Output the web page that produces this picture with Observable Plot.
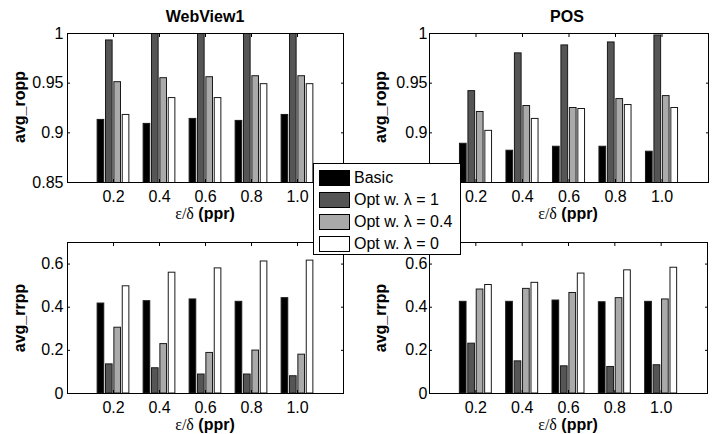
<!DOCTYPE html>
<html><head><meta charset="utf-8">
<script src="https://cdn.jsdelivr.net/npm/d3@7"></script>
<script src="https://cdn.jsdelivr.net/npm/@observablehq/plot@0.6"></script>
<style>
body{margin:0;background:#fff;font-family:"Liberation Sans",Arial,sans-serif;color:#000;}
#chart{position:relative;width:722px;height:434px;overflow:hidden;background:#fff;}
.panel{position:absolute;width:361px;height:217px;}
.panel svg{display:block;}
.txt{position:absolute;white-space:nowrap;font-size:16px;line-height:1;transform:translate(-50%,-50%);}
.bold{font-weight:bold;}
.ylab{transform:translate(-50%,-50%) rotate(-90deg);font-weight:bold;}
.sym{font-family:"Liberation Serif","DejaVu Serif",serif;font-weight:normal;}
#legend{position:absolute;left:313px;top:163px;width:146px;height:90px;border:1px solid #000;background:#fff;z-index:5;}
.lrow{position:absolute;left:5px;height:16px;display:flex;align-items:center;font-size:16px;white-space:nowrap;}
.sw{width:29px;height:14px;border:1px solid #000;margin-right:4px;box-sizing:content-box;}
</style></head><body><div id="chart"></div>
<script>
// ---- data ----
const categories = ["0.2", "0.4", "0.6", "0.8", "1.0"];
const seriesNames = ["Basic", "Opt w. λ = 1", "Opt w. λ = 0.4", "Opt w. λ = 0"];
const seriesFills = ["#000000", "#555555", "#aaaaaa", "#ffffff"];

const roppTicks = [0.85, 0.9, 0.95, 1];
const roppTickLabels = ["0.85", "0.9", "0.95", "1"];
const rrppTicks = [0, 0.2, 0.4, 0.6];
const rrppTickLabels = ["0", "0.2", "0.4", "0.6"];

// WebView1 avg_ropp
const webRoppBasic = [0.913, 0.909, 0.914, 0.912, 0.918];
const webRoppL1    = [0.993, 1.0, 1.0, 1.0, 1.0];
const webRoppL04   = [0.951, 0.955, 0.956, 0.957, 0.957];
const webRoppL0    = [0.918, 0.935, 0.935, 0.949, 0.949];
// POS avg_ropp
const posRoppBasic = [0.889, 0.882, 0.886, 0.886, 0.881];
const posRoppL1    = [0.942, 0.980, 0.988, 0.991, 0.998];
const posRoppL04   = [0.921, 0.927, 0.925, 0.934, 0.937];
const posRoppL0    = [0.902, 0.914, 0.924, 0.928, 0.925];
// WebView1 avg_rrpp
const webRrppBasic = [0.417, 0.428, 0.436, 0.425, 0.442];
const webRrppL1    = [0.135, 0.117, 0.088, 0.088, 0.080];
const webRrppL04   = [0.305, 0.229, 0.188, 0.199, 0.180];
const webRrppL0    = [0.497, 0.560, 0.580, 0.612, 0.616];
// POS avg_rrpp
const posRrppBasic = [0.425, 0.425, 0.431, 0.423, 0.425];
const posRrppL1    = [0.231, 0.149, 0.126, 0.123, 0.131];
const posRrppL04   = [0.482, 0.485, 0.466, 0.442, 0.436];
const posRrppL0    = [0.503, 0.513, 0.556, 0.571, 0.583];

// ---- drawing ----
const PITCH = 0.182, HALF = 0.072;
const chart = document.getElementById("chart");

function makePanel({series, yDomain, yTicks, yTickLabels, left, top, mTop, mBottom, mLeft, mRight, yPad}) {
  const rows = [];
  series.forEach((arr, k) => arr.forEach((v, i) => rows.push({series: seriesNames[k], k, i, v})));
  const xTicks = categories.map((c, i) => i + 1);
  const svg = Plot.plot({
    width: 361, height: 217,
    marginTop: mTop, marginBottom: mBottom, marginLeft: mLeft, marginRight: mRight,
    style: {fontFamily: "Liberation Sans, Arial, sans-serif", fontSize: "16px", color: "#000", background: "transparent", overflow: "visible"},
    x: {domain: [0, categories.length + 1], axis: null},
    y: {domain: yDomain, axis: null},
    color: {domain: seriesNames, range: seriesFills},
    marks: [
      Plot.rect(rows, {
        x1: d => d.i + 1 + (d.k - 1.5) * PITCH - HALF,
        x2: d => d.i + 1 + (d.k - 1.5) * PITCH + HALF,
        y1: 0, y2: "v", fill: "series", stroke: "#1a1a1a", strokeWidth: 1, clip: true
      }),
      Plot.axisX({anchor: "bottom", ticks: xTicks, tickSize: -3, tickFormat: () => "", label: null, stroke: "#000"}),
      Plot.axisX({anchor: "top", ticks: xTicks, tickSize: -3, tickFormat: () => "", label: null, stroke: "#000"}),
      Plot.axisY({anchor: "left", ticks: yTicks, tickSize: -3, tickFormat: () => "", label: null, stroke: "#000"}),
      Plot.axisY({anchor: "right", ticks: yTicks, tickSize: -3, tickFormat: () => "", label: null, stroke: "#000"}),
      Plot.axisX({anchor: "bottom", ticks: xTicks, tickSize: 0, tickPadding: 8, tickFormat: (d) => categories[d - 1], label: null, fill: "#000", fontSize: 16}),
      Plot.axisY({anchor: "left", ticks: yTicks, tickSize: 0, tickPadding: yPad, tickFormat: (d) => yTickLabels[yTicks.indexOf(d)], label: null, fill: "#000", fontSize: 16}),
      Plot.frame({stroke: "#000", strokeWidth: 1})
    ]
  });
  const div = document.createElement("div");
  div.className = "panel";
  div.style.left = left + "px";
  div.style.top = top + "px";
  div.appendChild(svg);
  chart.appendChild(div);
}

function addText(html, x, y, cls) {
  const d = document.createElement("div");
  d.className = "txt " + (cls || "");
  d.style.left = x + "px";
  d.style.top = y + "px";
  d.innerHTML = html;
  chart.appendChild(d);
}

makePanel({series: [webRoppBasic, webRoppL1, webRoppL04, webRoppL0], yDomain: [0.85, 1], yTicks: roppTicks, yTickLabels: roppTickLabels,
  left: 0, top: 0, mTop: 33, mBottom: 35, mLeft: 67, mRight: 18, yPad: 4});
makePanel({series: [posRoppBasic, posRoppL1, posRoppL04, posRoppL0], yDomain: [0.85, 1], yTicks: roppTicks, yTickLabels: roppTickLabels,
  left: 361, top: 0, mTop: 33, mBottom: 35, mLeft: 68, mRight: 14, yPad: 2});
makePanel({series: [webRrppBasic, webRrppL1, webRrppL04, webRrppL0], yDomain: [0, 0.7], yTicks: rrppTicks, yTickLabels: rrppTickLabels,
  left: 0, top: 217, mTop: 25, mBottom: 41, mLeft: 67, mRight: 18, yPad: 4});
makePanel({series: [posRrppBasic, posRrppL1, posRrppL04, posRrppL0], yDomain: [0, 0.7], yTicks: rrppTicks, yTickLabels: rrppTickLabels,
  left: 361, top: 217, mTop: 25, mBottom: 41, mLeft: 68, mRight: 15, yPad: 2});

const xTitle = '<span class="sym">ε/δ</span> <span class="bold">(ppr)</span>';
addText("WebView1", 205, 17, "bold");
addText("POS", 567, 17, "bold");
addText(xTitle, 205, 214);
addText(xTitle, 568, 214);
addText(xTitle, 205, 425);
addText(xTitle, 568, 425);
addText("avg_ropp", 20, 107, "ylab");
addText("avg_ropp", 381, 107, "ylab");
addText("avg_rrpp", 20, 318, "ylab");
addText("avg_rrpp", 381, 318, "ylab");

// legend
const legend = document.createElement("div");
legend.id = "legend";
seriesNames.forEach((name, k) => {
  const row = document.createElement("div");
  row.className = "lrow";
  row.style.top = (6 + k * 22) + "px";
  const sw = document.createElement("div");
  sw.className = "sw";
  sw.style.background = seriesFills[k];
  const t = document.createElement("span");
  t.textContent = name;
  row.appendChild(sw);
  row.appendChild(t);
  legend.appendChild(row);
});
chart.appendChild(legend);
</script>
</body></html>
